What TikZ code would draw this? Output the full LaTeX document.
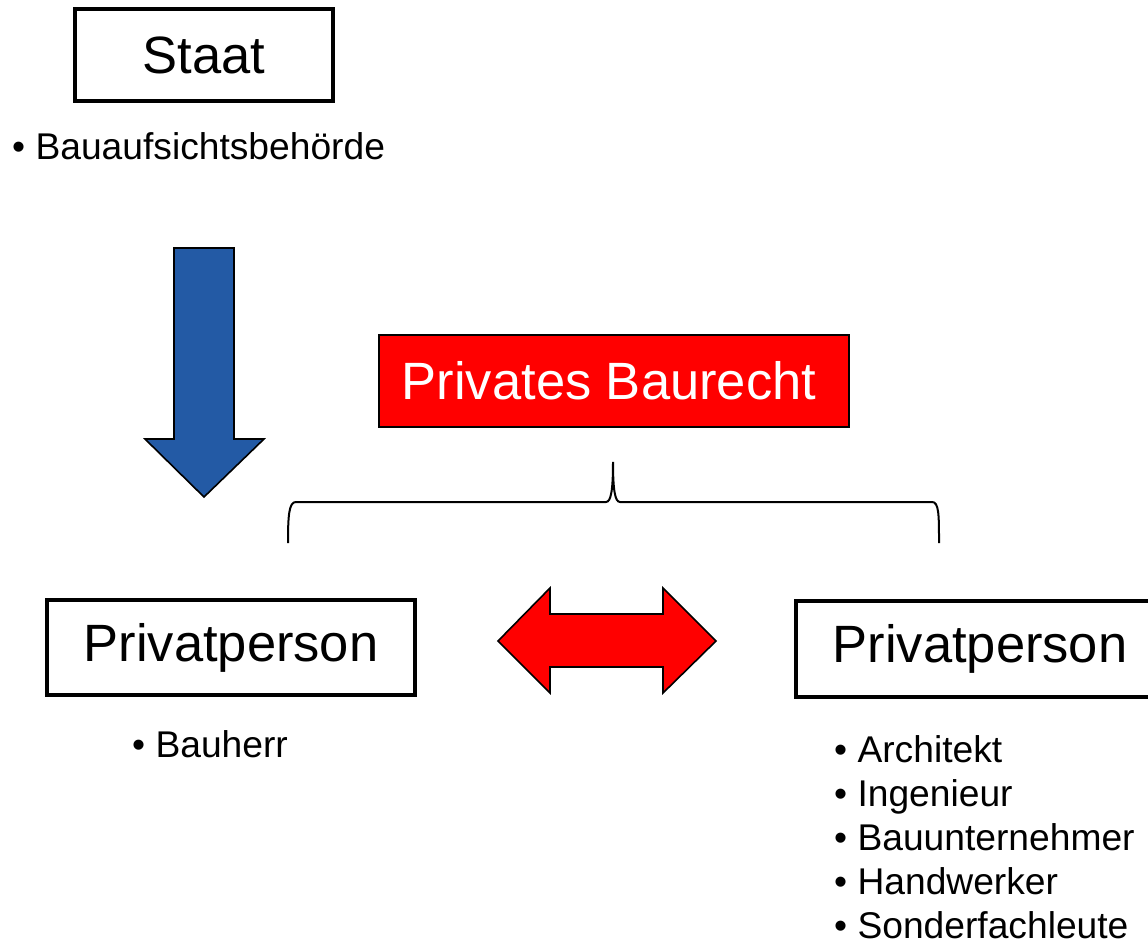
\documentclass[tikz,border=0pt]{standalone}
\usepackage{fontspec}
\setmainfont{Liberation Sans}
\definecolor{arrowblue}{RGB}{35,90,165}
\definecolor{pptred}{RGB}{255,0,0}
\begin{document}
\begin{tikzpicture}[x=1pt,y=-1pt,
  bigtext/.style={font=\fontsize{52.5}{60}\selectfont},
  smalltext/.style={font=\fontsize{37.2}{44}\selectfont, inner sep=0pt, anchor=base west},
  framebox/.style={draw=black, line width=4pt, fill=white, inner sep=0pt, bigtext},
  shapeline/.style={draw=black, line width=1.6pt, line join=miter}]
\useasboundingbox (0,0) rectangle (1148,944);
\clip (0,0) rectangle (1148,944);

% boxes
\node[framebox, minimum width=258pt, minimum height=92pt] (staat) at (204,55) {Staat};
\node[framebox, minimum width=368pt, minimum height=95pt] (pp1) at (231,647.5) {Privatperson};
\node[framebox, minimum width=368pt, minimum height=96pt] (pp2) at (980,649) {Privatperson};
\node[draw=black, line width=1.6pt, fill=pptred, text=white, bigtext, inner sep=0pt,
      minimum width=470pt, minimum height=92pt] (pbr) at (614,381) {\hspace*{-10pt}Privates Baurecht};

% bullet texts
\node[smalltext] (t1) at (12,160) {\textbullet\ Bauaufsichtsbehörde};
\node[smalltext] (t2) at (132,757) {\textbullet\ Bauherr};
\node[smalltext] (t3) at (834,762) {\textbullet\ Architekt};
\node[smalltext] (t4) at (834,806) {\textbullet\ Ingenieur};
\node[smalltext] (t5) at (834,850) {\textbullet\ Bauunternehmer};
\node[smalltext] (t6) at (834,894) {\textbullet\ Handwerker};
\node[smalltext] (t7) at (834,938) {\textbullet\ Sonderfachleute};

% blue down arrow
\draw[shapeline, fill=arrowblue]
  (174,248) -- (234,248) -- (234,439) -- (264,439) -- (204,497)
  -- (145,439) -- (174,439) -- cycle;

% red double arrow
\draw[shapeline, fill=pptred]
  (498,641) -- (550,588) -- (550,614) -- (663,614) -- (663,588)
  -- (716,641) -- (663,693) -- (663,667) -- (550,667) -- (550,693) -- cycle;

% brace
\draw[line width=2pt, line cap=butt]
  (288,543) .. controls (288,515) and (289,502) .. (296,502)
  -- (606,502) .. controls (611,502) and (613,490) .. (613,462)
  .. controls (613,490) and (615,502) .. (620,502)
  -- (932,502) .. controls (939,502) and (939,515) .. (939,543);
\end{tikzpicture}
\end{document}
